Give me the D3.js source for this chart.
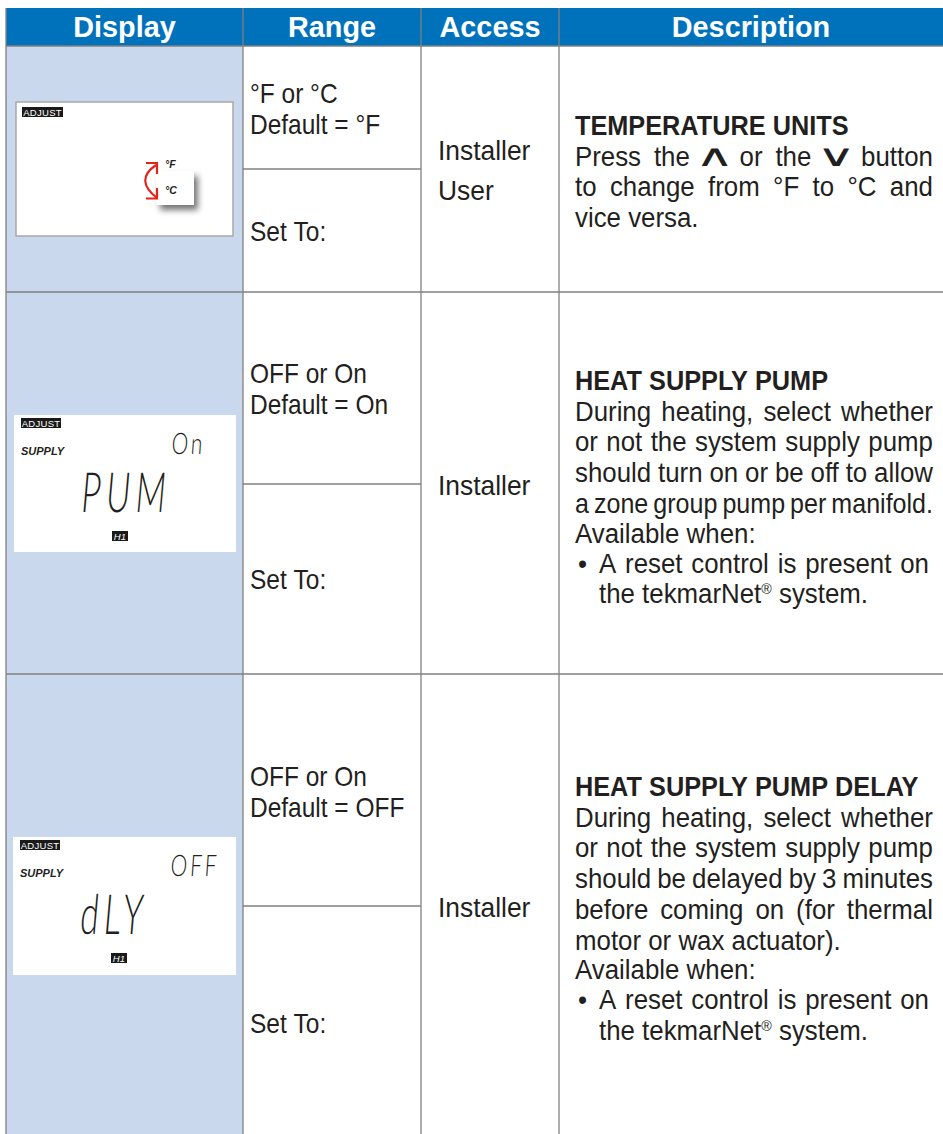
<!DOCTYPE html>
<html><head><meta charset="utf-8">
<script src="https://cdn.jsdelivr.net/npm/d3@7"></script>
<style>html,body{margin:0;padding:0;background:#fff;} svg{display:block}</style>
</head><body><svg id="c" width="943" height="1134"></svg>
<script>
// ---------- data ----------
const headers = ["Display", "Range", "Access", "Description"];
const rangeMain = [["°F or °C", "Default = °F"], ["OFF or On", "Default = On"], ["OFF or On", "Default = OFF"]];
const rangeSet = ["Set To:", "Set To:", "Set To:"];
const accessLevels = [["Installer", "User"], ["Installer"], ["Installer"]];
const titles = ["TEMPERATURE UNITS", "HEAT SUPPLY PUMP", "HEAT SUPPLY PUMP DELAY"];
const bodyLines = [
  ["Press the ∧ or the ∨ button", "to change from °F to °C and", "vice versa."],
  ["During heating, select whether", "or not the system supply pump", "should turn on or be off to allow", "a zone group pump per manifold."],
  ["During heating, select whether", "or not the system supply pump", "should be delayed by 3 minutes", "before coming on (for thermal", "motor or wax actuator)."]
];
const availLabel = [null, "Available when:", "Available when:"];
const bulletLines = [null,
  ["A reset control is present on", "the tekmarNet® system."],
  ["A reset control is present on", "the tekmarNet® system."]];
const lcdAdjust = ["ADJUST", "ADJUST", "ADJUST"];
const lcdZone = [null, "SUPPLY", "SUPPLY"];
const lcdValue = [null, "On", "OFF"];
const lcdMain = [null, "PUM", "dLY"];
const lcdSchedule = [null, "H1", "H1"];
const unitChoices = ["°F", "°C"];

// ---------- layout ----------
const W = 943, H = 1134;
const svg = d3.select("#c");
const colEdges = [6, 243, 421, 559, 943];
const colX = d3.scaleOrdinal().domain(headers).range(colEdges.slice(0, 4));
const colR = d3.scaleOrdinal().domain(headers).range(colEdges.slice(1));
const rowIdx = [0, 1, 2];
const rowTop = d3.scaleOrdinal().domain(rowIdx).range([46, 292, 674]);
const rangeSplit = d3.scaleOrdinal().domain(rowIdx).range([169, 484, 906]);
const rangeBase = d3.scaleOrdinal().domain(rowIdx).range([103, 383, 786]);
const setBase = d3.scaleOrdinal().domain(rowIdx).range([241, 589, 1033]);
const accessBase = d3.scaleOrdinal().domain(rowIdx).range([160, 495, 917]);
const titleBase = d3.scaleOrdinal().domain(rowIdx).range([135, 390, 796]);
const panelBox = d3.scaleOrdinal().domain(rowIdx).range([
  {x: 16, y: 102, w: 217, h: 134, border: true},
  {x: 14, y: 415, w: 222, h: 137, border: false},
  {x: 13, y: 837, w: 223, h: 138, border: false}]);

const TXT = "#231f20", GRID = "#808080", BLUE = "#0072bc", PALE = "#c9d8ec";
const FS = 27.5, LH = 30.7;
const SX_RANGE = 0.89, SX_ACCESS = 0.96, SX_TITLE = 0.92, SX_BODY = 0.94;
const FONT = "'Liberation Sans', Arial, Helvetica, sans-serif";
const CHEV = ["∧", "∨"];

const defs = svg.append("defs");
const f = defs.append("filter").attr("id", "sh").attr("x", "-50%").attr("y", "-50%").attr("width", "200%").attr("height", "200%");
f.append("feGaussianBlur").attr("in", "SourceAlpha").attr("stdDeviation", 3);
f.append("feOffset").attr("dx", 4).attr("dy", 5).attr("result", "ob");
f.append("feComponentTransfer").append("feFuncA").attr("type", "linear").attr("slope", 0.55);
const fm = f.append("feMerge"); fm.append("feMergeNode"); fm.append("feMergeNode").attr("in", "SourceGraphic");

// backgrounds
svg.append("rect").attr("x", colX("Display")).attr("y", 46).attr("width", colR("Display") - colX("Display")).attr("height", H - 46).attr("fill", PALE);
svg.append("rect").attr("x", colX("Display")).attr("y", 8).attr("width", W - colX("Display")).attr("height", 38).attr("fill", BLUE);

// header text
svg.selectAll("text.hdr").data(headers).join("text").attr("class", "hdr")
  .attr("transform", d => `translate(${(colX(d) + colR(d)) / 2},37) scale(0.96,1)`)
  .attr("text-anchor", "middle").attr("fill", "#fff")
  .style("font-family", FONT).style("font-weight", "bold").style("font-size", "30px")
  .text(d => d);

// grid lines
const grid = svg.append("g").attr("stroke", GRID).attr("stroke-width", 1.3).attr("fill", "none");
grid.append("line").attr("x1", 6).attr("x2", 6).attr("y1", 8).attr("y2", H);
headers.slice(1).forEach(h => grid.append("line").attr("x1", colX(h)).attr("x2", colX(h)).attr("y1", 8).attr("y2", H));
grid.append("line").attr("x1", 6).attr("x2", W).attr("y1", 46).attr("y2", 46);
rowIdx.slice(1).forEach(r => grid.append("line").attr("x1", 6).attr("x2", W).attr("y1", rowTop(r)).attr("y2", rowTop(r)));
rowIdx.forEach(r => grid.append("line").attr("x1", colX("Range")).attr("x2", colR("Range")).attr("y1", rangeSplit(r)).attr("y2", rangeSplit(r)));

// text helpers
const CHEV_W = 24, CHEV_FS = 32, CHEV_SX = 1.7, CHEV_SY = 0.95;
function line(g, str, x, y, opts) {
  let sx = opts.sx;
  const width = opts.width;
  const t = g.append("text").attr("fill", TXT).style("font-family", FONT).style("font-size", FS + "px")
    .style("font-weight", opts.bold ? "bold" : "normal");
  const words = str.split(" ");
  const items = words.map(w => {
    if (CHEV.includes(w)) {
      const c = g.append("text").attr("fill", TXT).attr("text-anchor", "middle")
        .style("font-family", "'DejaVu Sans', sans-serif").style("font-weight", "normal")
        .style("font-size", CHEV_FS + "px").text(w);
      return {chev: c, w: CHEV_W};
    }
    let spans;
    if (w.includes("®")) {
      const parts = w.split("®");
      spans = [t.append("tspan").text(parts[0]),
               t.append("tspan").text("®").style("font-size", (FS * 0.55) + "px").attr("dy", -9)];
      if (parts[1]) spans.push(t.append("tspan").text(parts[1]).attr("dy", 9));
    } else spans = [t.append("tspan").text(w)];
    return {spans, raw: d3.sum(spans, s => s.node().getComputedTextLength())};
  });
  const space = FS * 0.278;
  const wordW = () => d3.sum(items, it => it.chev ? it.w : it.raw * sx);
  let gap = space * sx;
  const n = words.length;
  if (width && n > 1) {
    const nat = wordW() + gap * (n - 1);
    if (nat > 0.85 * width) {
      gap = (width - wordW()) / (n - 1);
      const minGap = space * sx * 0.7;
      if (gap < minGap) {
        gap = minGap;
        const textW = d3.sum(items, it => it.chev ? 0 : it.raw);
        const chevW = d3.sum(items, it => it.chev ? it.w : 0);
        sx = (width - chevW - gap * (n - 1)) / textW;
      }
    }
  }
  t.attr("transform", `translate(${x},${y}) scale(${sx},1)`);
  let cx = 0;
  items.forEach(it => {
    if (it.chev) {
      it.chev.attr("transform", `translate(${x + cx + it.w / 2},${y}) scale(${CHEV_SX},${CHEV_SY})`);
      cx += it.w + gap;
    } else {
      it.spans[0].attr("x", cx / sx).attr("y", 0);
      cx += it.raw * sx + gap;
    }
  });
  return t;
}

const body = svg.append("g");
rowIdx.forEach(r => {
  rangeMain[r].forEach((s, i) => line(body, s, 250, rangeBase(r) + i * 30.5, {sx: SX_RANGE}));
  line(body, rangeSet[r], 250, setBase(r), {sx: SX_RANGE});
  accessLevels[r].forEach((s, i) => line(body, s, 438, accessBase(r) + i * 40, {sx: SX_ACCESS}));
  const dx = 575, dw = 933 - 575;
  let y = titleBase(r);
  line(body, titles[r], dx, y, {sx: SX_TITLE, bold: true});
  bodyLines[r].forEach(s => { y += LH; line(body, s, dx, y, {sx: SX_BODY, width: dw}); });
  if (availLabel[r]) {
    y += LH - 1;
    line(body, availLabel[r], dx, y, {sx: SX_BODY});
    bulletLines[r].forEach((s, i) => {
      y += LH - 0.5;
      if (i === 0) {
        line(body, "•", 578, y, {sx: SX_BODY});
        line(body, s, 599, y, {sx: SX_BODY, width: 929 - 599});
      } else line(body, s, 599, y, {sx: SX_BODY});
    });
  }
});

// ---------- LCD panels ----------
function badge(g, str, x, y, w, h, italic) {
  g.append("rect").attr("x", x).attr("y", y).attr("width", w).attr("height", h).attr("fill", "#1a1a1a");
  g.append("text").attr("x", x + w / 2).attr("y", y + h - 1.5).attr("text-anchor", "middle")
    .attr("fill", "#fff").style("font-family", FONT).style("font-size", (h - 0.5) + "px")
    .style("font-style", italic ? "italic" : "normal").style("letter-spacing", "0.3px").text(str);
}
rowIdx.forEach(r => {
  const p = panelBox(r);
  const g = svg.append("g").attr("transform", `translate(${p.x},${p.y})`);
  g.append("rect").attr("width", p.w).attr("height", p.h).attr("fill", "#fff")
    .attr("stroke", p.border ? "#a9a9a9" : "none").attr("stroke-width", 1.5);
  if (r === 0) {
    badge(g, lcdAdjust[r], 6, 5, 41, 10, false);
    g.append("rect").attr("x", 140).attr("y", 69).attr("width", 38).attr("height", 34).attr("fill", "#fff").attr("filter", "url(#sh)");
    unitChoices.forEach((u, i) => g.append("text").attr("x", 149).attr("y", 66 + i * 26)
      .attr("fill", TXT).style("font-family", FONT).style("font-size", "10.5px").style("font-weight", "bold").style("font-style", "italic").text(u));
    const red = g.append("g").attr("stroke", "#e2231a").attr("stroke-width", 2.2).attr("fill", "none").attr("stroke-linejoin", "miter");
    red.append("path").attr("d", "M130,61 L141,61 L141,72");
    red.append("path").attr("d", "M140,63 Q118,78 141,96");
    red.append("path").attr("d", "M130,96.5 L141,96.5 L141,86");
  } else {
    badge(g, lcdAdjust[r], 7, 3, 40, 10, false);
    g.append("text").attr("x", 7).attr("y", 40).attr("fill", TXT)
      .style("font-family", FONT).style("font-size", "11px").style("font-weight", "bold").style("font-style", "italic").text(lcdZone[r]);
    g.append("text").attr("transform", "translate(157,39) skewX(-4) scale(0.95,1.35)")
      .attr("fill", TXT).style("font-family", "Lato, sans-serif").style("font-weight", 300)
      .style("font-size", "22px").style("letter-spacing", "3px").text(lcdValue[r]);
    g.append("text").attr("transform", "translate(66,97) skewX(-5) scale(0.9,1.5)")
      .attr("fill", TXT).style("font-family", "Lato, sans-serif").style("font-weight", 300)
      .style("font-size", "37px").style("letter-spacing", "6px").text(lcdMain[r]);
    badge(g, lcdSchedule[r], 98, 116, 16, 10, true);
  }
});
</script></body></html>
